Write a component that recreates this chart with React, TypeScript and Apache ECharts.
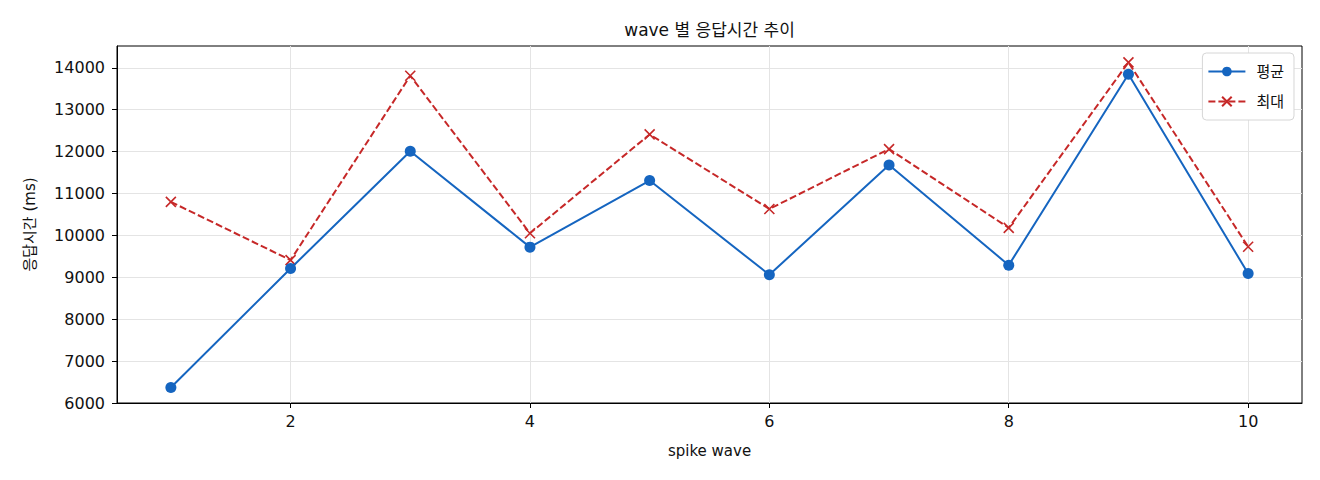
import React, { useEffect, useRef } from "react";
import * as echarts from "echarts";

const waves = [1, 2, 3, 4, 5, 6, 7, 8, 9, 10];
const avgMs = [6370, 9210, 12010, 9720, 11310, 9060, 11680, 9290, 13845, 9090];
const maxMs = [10800, 9410, 13810, 10050, 12410, 10630, 12060, 10180, 14130, 9730];
const xTicks = [2, 4, 6, 8, 10];
const yTicks = [6000, 7000, 8000, 9000, 10000, 11000, 12000, 13000, 14000];

const FONT = "'DejaVu Sans', 'Noto Sans CJK KR', sans-serif";
const BLUE = "#1565C0";
const RED = "#C62828";

export default function App() {
  const ref = useRef<HTMLDivElement>(null);
  useEffect(() => {
    if (!ref.current) return;
    const chart = echarts.init(ref.current, undefined, { renderer: "svg" });
    const gridLeft = 117;
    const gridRight = 18;
    const plotCenter = gridLeft + (1320 - gridLeft - gridRight) / 2;
    chart.setOption({
      animation: false,
      textStyle: { fontFamily: FONT },
      graphic: [
        {
          type: "text",
          x: plotCenter,
          y: 30,
          style: {
            text: "wave 별 응답시간 추이",
            fontFamily: FONT,
            fontSize: 17,
            fill: "#111",
            align: "center",
            verticalAlign: "middle",
          },
        },
      ],
      grid: {
        left: gridLeft,
        right: gridRight,
        top: 46,
        bottom: 77,
        show: true,
        borderColor: "#000",
        borderWidth: 1,
        outerBoundsMode: "none",
      },
      legend: {
        orient: "vertical",
        right: 26,
        top: 53,
        itemWidth: 37,
        itemHeight: 12,
        itemGap: 15,
        padding: [11, 10, 11, 5],
        borderColor: "#d6d6d6",
        borderWidth: 1,
        borderRadius: 4,
        backgroundColor: "#fff",
        textStyle: { fontSize: 15, color: "#111", fontFamily: FONT, padding: [0, 0, 0, 6] },
        data: ["평균", "최대"],
      },
      xAxis: {
        type: "value",
        min: 0.55,
        max: 10.45,
        name: "spike wave",
        nameLocation: "middle",
        nameGap: 40,
        nameTextStyle: { fontSize: 15, color: "#111", fontFamily: FONT },
        axisLine: { show: true, onZero: false, lineStyle: { color: "#000", width: 1 } },
        axisTick: { show: true, length: 5, lineStyle: { color: "#000" }, customValues: xTicks },
        axisLabel: { fontSize: 16, color: "#111", margin: 10, customValues: xTicks, fontFamily: FONT },
        splitLine: { show: true, lineStyle: { color: "#e4e4e4", width: 1 } },
      },
      yAxis: {
        type: "value",
        min: 6000,
        max: 14520,
        name: "응답시간 (ms)",
        nameLocation: "middle",
        nameGap: 80,
        nameTextStyle: { fontSize: 15, color: "#111", fontFamily: FONT },
        axisLine: { show: true, onZero: false, lineStyle: { color: "#000", width: 1 } },
        axisTick: { show: true, length: 5, lineStyle: { color: "#000" }, customValues: yTicks },
        axisLabel: {
          fontSize: 16,
          color: "#111",
          margin: 12,
          customValues: yTicks,
          fontFamily: FONT,
          formatter: (v: number) => String(v),
        },
        splitLine: { show: true, lineStyle: { color: "#e4e4e4", width: 1 } },
      },
      series: [
        {
          name: "평균",
          type: "line",
          data: waves.map((w, i) => [w, avgMs[i]]),
          symbol: "circle",
          symbolSize: 11,
          lineStyle: { color: BLUE, width: 2 },
          itemStyle: { color: BLUE },
          emphasis: { disabled: true },
          z: 3,
        },
        {
          name: "최대",
          type: "line",
          data: waves.map((w, i) => [w, maxMs[i]]),
          symbol: "path://M0,0L10,10M10,0L0,10",
          symbolSize: 10,
          lineStyle: { color: RED, width: 2, type: [7, 3] },
          itemStyle: { color: "none", borderColor: RED, borderWidth: 1.6 },
          emphasis: { disabled: true },
          z: 2,
        },
      ],
    });
    return () => chart.dispose();
  }, []);
  return (
    <div
      ref={ref}
      style={{ position: "absolute", left: 0, top: 0, width: 1320, height: 480, background: "#fff" }}
    />
  );
}
